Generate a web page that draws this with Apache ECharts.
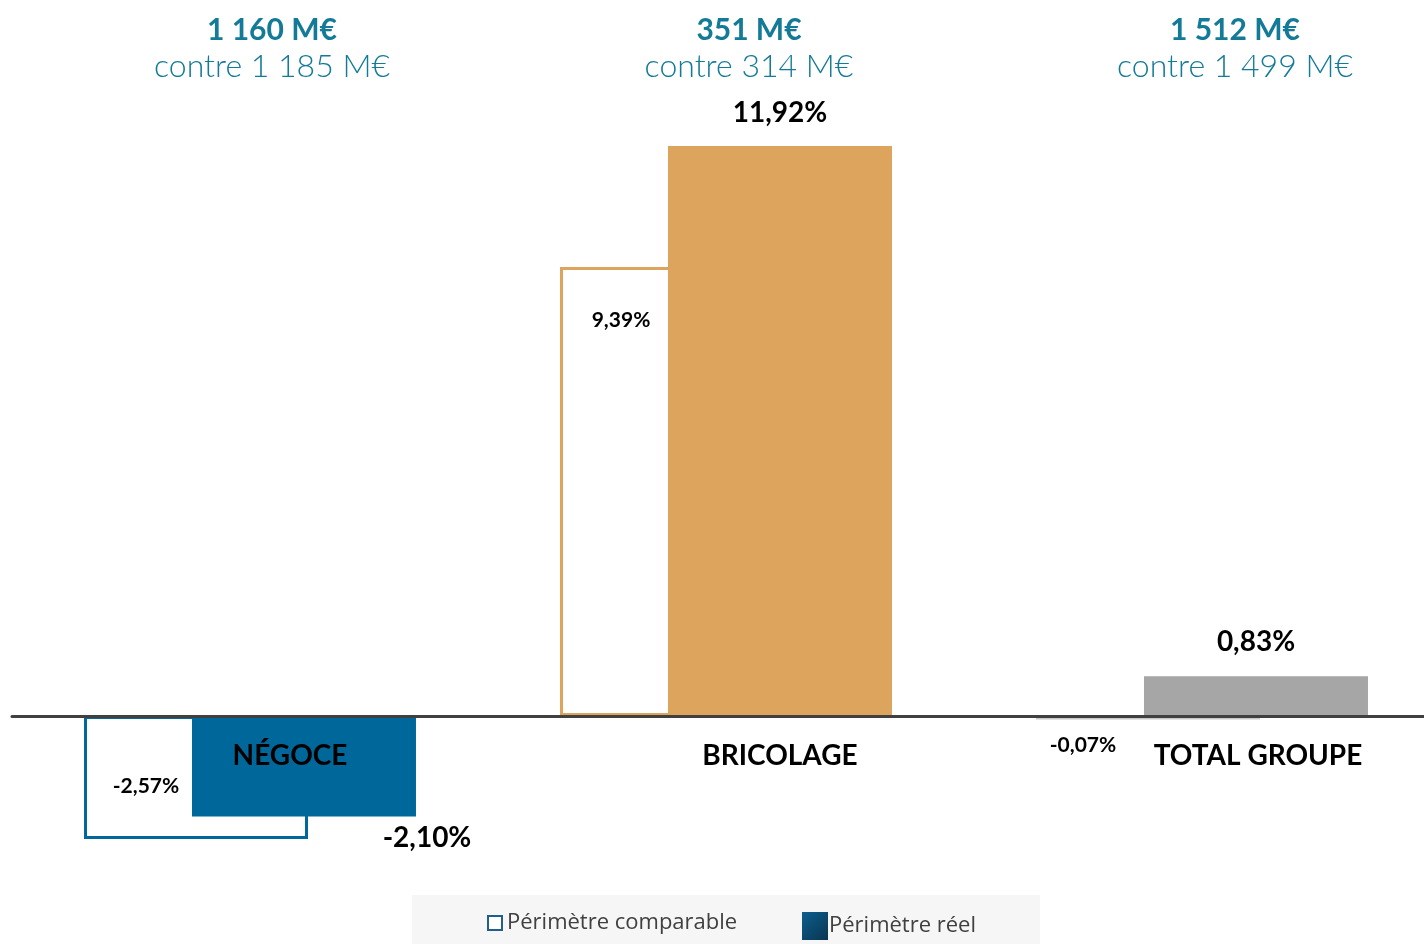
<!DOCTYPE html>
<html><head><meta charset="utf-8">
<script src="https://cdn.jsdelivr.net/npm/echarts@6/dist/echarts.min.js"></script>
<style>html,body{margin:0;padding:0;background:#fff}#c{width:1424px;height:944px}</style>
</head><body><div id="c"></div>
<script>
const categories = ['NÉGOCE', 'BRICOLAGE', 'TOTAL GROUPE'];
const comparableValues = [-2.57, 9.39, -0.07];
const realValues = [-2.10, 11.92, 0.83];
const headlineValues = ['1 160 M€', '351 M€', '1 512 M€'];
const previousValues = ['contre 1 185 M€', 'contre 314 M€', 'contre 1 499 M€'];
const seriesNames = ['Périmètre comparable', 'Périmètre réel'];

const catColors = ['#00679b', '#dca45c', '#a6a6a6'];
const compBorder = ['#00679b', '#dca45c', '#c8c8c8'];
const compFill = ['#ffffff', '#ffffff', '#c8c8c8'];
const FONT = 'Lato';
const fmt = v => v.toFixed(2).replace('.', ',') + '%';

const compLabelOffsets = [{position:'inside', offset:[-50, 9]}, {position:'insideTop', offset:[-51, 38]}, {position:'inside', offset:[-65, 28]}];
const realLabelOffsets = [{position:'inside', offset:[123, 72]}, {position:'top', distance:19}, {position:'top', distance:20}];
const catLabelPad = [80, 108, 112];
const titleX = [267, 744, 1230];

const chart = echarts.init(document.getElementById('c'));
chart.setOption({
  animation: false,
  backgroundColor: '#ffffff',
  title: headlineValues.map((h, i) => ({
    text: h, subtext: previousValues[i], left: titleX[i], top: 10, textAlign: 'center', itemGap: 6,
    textStyle: {fontFamily: FONT, fontWeight: 'bold', fontSize: 30, color: '#137a97'},
    subtextStyle: {fontFamily: FONT, fontWeight: 300, fontSize: 32, color: '#137a97'}
  })),
  graphic: [{type: 'rect', left: 412, top: 895, shape: {width: 628, height: 49}, style: {fill: '#f6f6f6'}, z: -1, silent: true}],
  legend: [
    {
      left: 482, top: 907, padding: 5, itemWidth: 14, itemHeight: 14,
      textStyle: {fontFamily: 'Open Sans', fontSize: 22, color: '#404040'},
      data: [{name: seriesNames[0], icon: 'rect', itemStyle: {color: '#ffffff', borderColor: '#1f5f8a', borderWidth: 2}}],
      selectedMode: false
    },
    {
      left: 797, top: 907, padding: 5, itemWidth: 26, itemHeight: 28,
      textStyle: {fontFamily: 'Open Sans', fontSize: 22, color: '#404040', padding: [0, 0, 14, -4]},
      data: [{name: seriesNames[1], icon: 'rect', itemStyle: {color: {type: 'linear', x: 0, y: 0, x2: 1, y2: 1, colorStops: [{offset: 0, color: '#0b5f8f'}, {offset: 0.5, color: '#0a4a70'}, {offset: 1, color: '#0c3550'}]}, borderWidth: 0}}],
      selectedMode: false
    }
  ],
  grid: {left: 12, width: 1428, top: 142.2, bottom: 944 - 859.5, containLabel: false, outerBoundsMode: 'none'},
  xAxis: {
    type: 'category',
    data: categories.map((c, i) => ({value: c, textStyle: {padding: [0, 0, 0, catLabelPad[i]]}})),
    axisLine: {onZero: true, lineStyle: {color: '#404040', width: 3}},
    axisTick: {show: false},
    axisLabel: {fontFamily: FONT, fontWeight: 'bold', fontSize: 28, color: '#000', margin: -118},
    z: 10
  },
  yAxis: {type: 'value', min: -3, max: 12, show: false, splitLine: {show: false}},
  series: [
    {
      name: seriesNames[0], type: 'bar', barWidth: 224, barGap: '-51.8%',
      itemStyle: {color: '#ffffff', borderColor: '#1f5f8a', borderWidth: 3},
      data: comparableValues.map((v, i) => ({
        value: v,
        itemStyle: {color: compFill[i], borderColor: compBorder[i], borderWidth: 3},
        label: Object.assign({show: true, formatter: fmt(v), fontFamily: FONT, fontWeight: 'bold', fontSize: 21, color: '#000'}, compLabelOffsets[i])
      }))
    },
    {
      name: seriesNames[1], type: 'bar', barWidth: 224,
      itemStyle: {color: '#0a4a70'},
      data: realValues.map((v, i) => ({
        value: v,
        itemStyle: {color: catColors[i]},
        label: Object.assign({show: true, formatter: fmt(v), fontFamily: FONT, fontWeight: 'bold', fontSize: 28, color: '#000'}, realLabelOffsets[i])
      }))
    }
  ]
});
</script></body></html>
